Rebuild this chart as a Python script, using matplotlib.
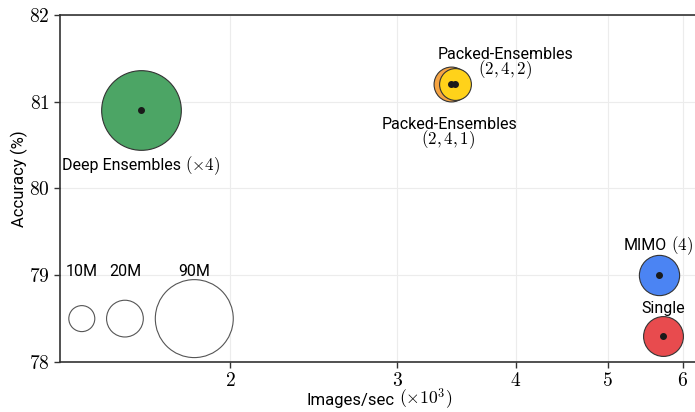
import numpy as np
import matplotlib
matplotlib.use("Agg")
import matplotlib.pyplot as plt
from matplotlib.ticker import FixedLocator, FuncFormatter, NullLocator
from matplotlib.transforms import offset_copy

plt.rcParams['font.family'] = ['Roboto', 'DejaVu Sans']
plt.rcParams['mathtext.fontset'] = 'cm'

# model results (throughput in 10^3 images/sec, top-1 accuracy, params in M)
models = ['Deep Ensembles', 'Packed (2,4,1)', 'Packed (2,4,2)', 'MIMO', 'Single']
speed = [1.61, 3.42, 3.45, 5.66, 5.72]
acc = [80.9, 81.2, 81.2, 79.0, 78.3]
params = [94, 18, 15, 24, 23.5]
colors = ['#4CA565', '#F5A443', '#FFD21A', '#4B84F3', '#E84B4E']

# size reference bubbles
ref_params = [10, 20, 90]
ref_speed = [1.396, 1.55, 1.834]
ref_acc = 78.5
ref_labels = ['10M', '20M', '90M']

xticks = [2, 3, 4, 5, 6]
yticks = [78, 79, 80, 81, 82]

scale = 35.0
TXT = 11.5
MATH = 12.2

fig = plt.figure(figsize=(6.95, 4.12), dpi=100)
ax = fig.add_axes([0.0863, 0.1214, 0.9137, 0.8422])
renderer = fig.canvas.get_renderer()


def mixed(x, y, parts, transform=None, gap=4):
    # sans words followed by cm math, centred as one line on the baseline
    transform = transform or ax.transData
    texts = [ax.text(x, y, s, fontsize=fs, ha='left', va='baseline',
                     transform=transform, clip_on=False) for s, fs in parts]
    widths = [t.get_window_extent(renderer).width for t in texts]
    total = sum(widths) + gap * (len(texts) - 1)
    off = -total / 2
    for t, w in zip(texts, widths):
        t.set_transform(offset_copy(transform, fig=fig, x=off, y=0, units='dots'))
        off += w + gap


ax.scatter(ref_speed, [ref_acc] * 3, s=np.array(ref_params) * scale,
           facecolor='white', edgecolor='#555555', linewidth=0.8, zorder=3)
for xs, lab in zip(ref_speed, ref_labels):
    ax.text(xs, 78.995, lab, ha='center', va='baseline', fontsize=TXT)

for xs, ys, p, c in zip(speed, acc, params, colors):
    ax.scatter(xs, ys, s=p * scale, color=c, edgecolor='#333333',
               linewidth=0.8, zorder=4)
    ax.scatter(xs, ys, s=16, color='#1a1a1a', zorder=5)

mixed(1.61, 80.213, [('Deep Ensembles', TXT), (r'$(\times4)$', MATH)])
ax.text(3.90, 81.493, 'Packed-Ensembles', ha='center', va='baseline', fontsize=TXT)
ax.text(3.896, 81.316, '$(2,4,2)$', ha='center', va='baseline', fontsize=MATH)
ax.text(3.407, 80.686, 'Packed-Ensembles', ha='center', va='baseline', fontsize=TXT)
ax.text(3.391, 80.51, '$(2,4,1)$', ha='center', va='baseline', fontsize=MATH)
mixed(5.65, 79.29, [('MIMO', TXT), ('$(4)$', MATH)])
ax.text(5.72, 78.57, 'Single', ha='center', va='baseline', fontsize=TXT)

ax.set_xscale('log')
ax.set_xlim(1.324, 6.18)
ax.set_ylim(78, 82)
ax.xaxis.set_major_locator(FixedLocator(xticks))
ax.xaxis.set_minor_locator(NullLocator())
ax.yaxis.set_major_locator(FixedLocator(yticks))
fmt = FuncFormatter(lambda v, pos: r'$%d$' % round(v))
ax.xaxis.set_major_formatter(fmt)
ax.yaxis.set_major_formatter(fmt)
ax.tick_params(labelsize=14, color='#333333', length=4, width=1)

ax.grid(True, color='#ececec', linewidth=0.8, zorder=0)
ax.set_axisbelow(True)
ax.spines['right'].set_visible(False)
for side in ['left', 'bottom', 'top']:
    ax.spines[side].set_color('#333333')
    ax.spines[side].set_linewidth(1.2)

mixed(0.503, -0.124, [('Images/sec', TXT + 0.5), (r'$(\times10^3)$', MATH + 0.5)],
      transform=ax.transAxes)
ax.text(-0.0646, 0.527, 'Accuracy (%)', rotation=90, ha='center', va='center',
        fontsize=TXT + 0.5, transform=ax.transAxes)

fig.savefig('out.png', dpi=100)
